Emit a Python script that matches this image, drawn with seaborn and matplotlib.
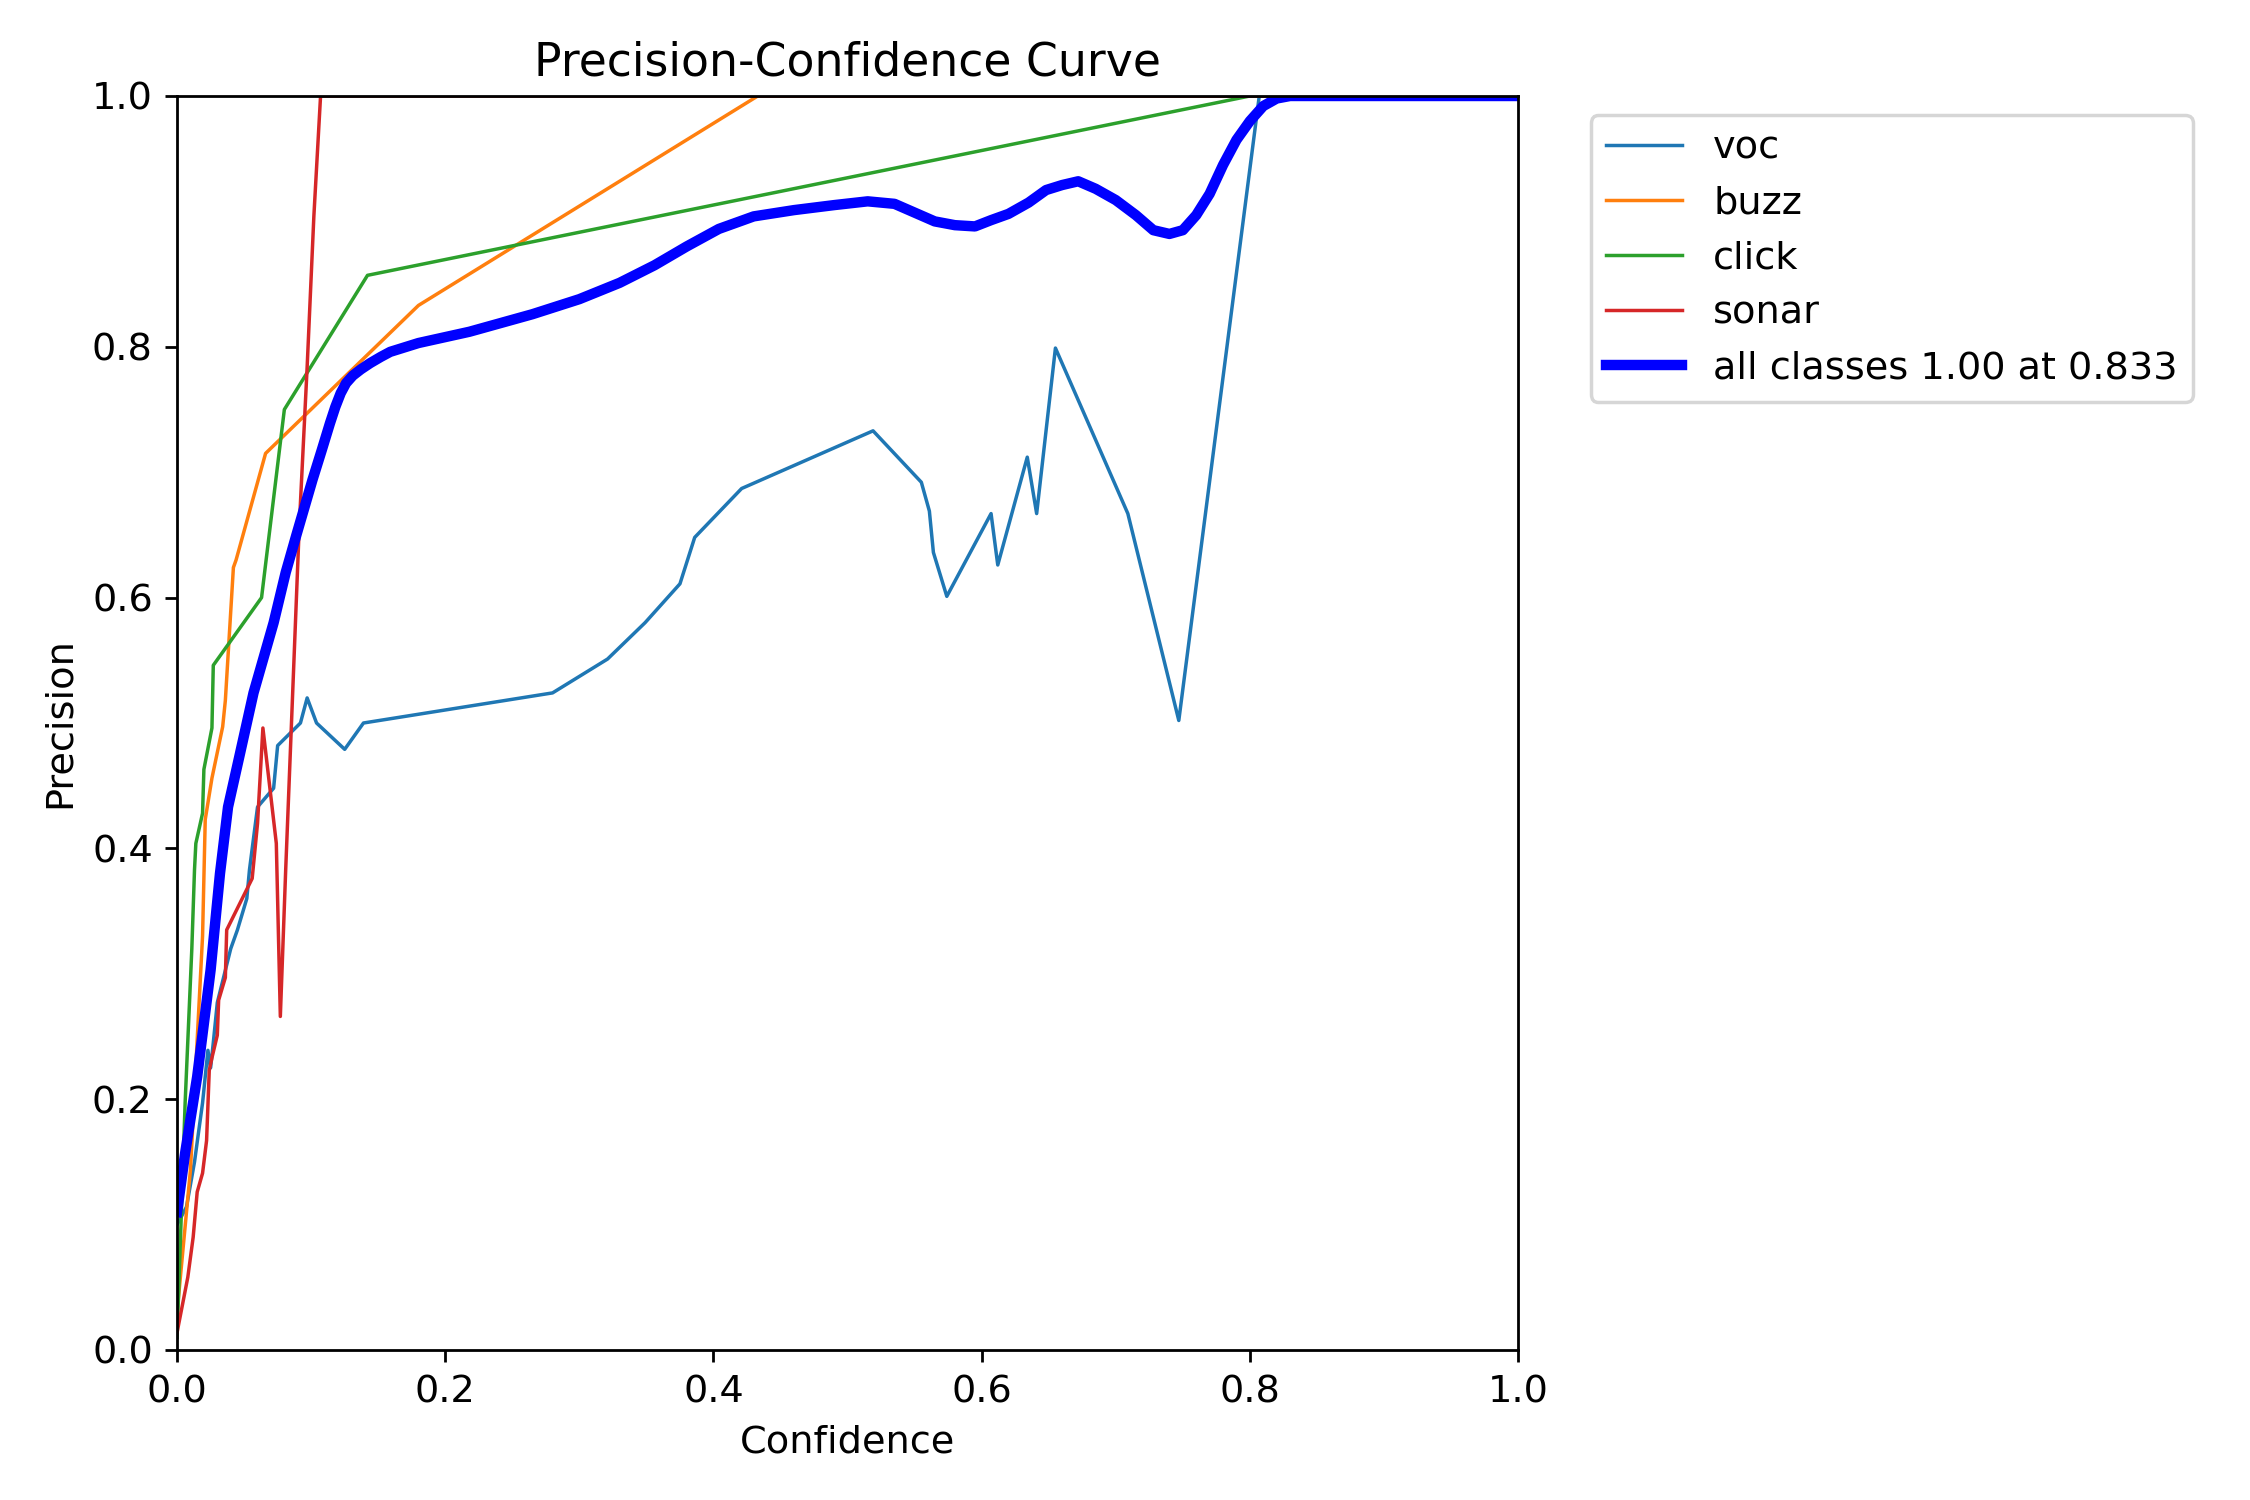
import matplotlib
matplotlib.use("Agg")
import matplotlib.pyplot as plt
import seaborn as sns

plt.rcParams["font.size"] = 11

# Precision vs confidence
voc_x = [0.0, 0.007, 0.013, 0.019, 0.023, 0.025, 0.027, 0.03, 0.04, 0.045, 0.052, 0.054,
         0.06, 0.072, 0.075, 0.092, 0.097, 0.104, 0.125, 0.139, 0.28, 0.321, 0.349, 0.375,
         0.386, 0.421, 0.519, 0.555, 0.561, 0.564, 0.574, 0.607, 0.612, 0.634, 0.641,
         0.655, 0.709, 0.747, 0.807, 1.0]
voc_y = [0.10, 0.114, 0.15, 0.197, 0.239, 0.225, 0.245, 0.277, 0.32, 0.335, 0.36, 0.383,
         0.433, 0.448, 0.482, 0.50, 0.52, 0.50, 0.479, 0.50, 0.524, 0.551, 0.58, 0.611,
         0.648, 0.687, 0.733, 0.692, 0.669, 0.636, 0.601, 0.667, 0.626, 0.712, 0.667,
         0.799, 0.667, 0.502, 1.0, 1.0]

buzz_x = [0.0, 0.01, 0.019, 0.021, 0.026, 0.034, 0.036, 0.042, 0.044, 0.066, 0.18, 0.433, 1.0]
buzz_y = [0.03, 0.144, 0.33, 0.423, 0.456, 0.497, 0.518, 0.624, 0.63, 0.715, 0.833, 1.0, 1.0]

click_x = [0.0, 0.006, 0.011, 0.013, 0.014, 0.019, 0.02, 0.026, 0.027, 0.063, 0.08, 0.142, 0.80, 1.0]
click_y = [0.01, 0.197, 0.32, 0.383, 0.404, 0.428, 0.463, 0.496, 0.546, 0.60, 0.75, 0.857, 1.0, 1.0]

sonar_x = [0.0, 0.008, 0.012, 0.015, 0.019, 0.022, 0.024, 0.026, 0.03, 0.031, 0.036, 0.037,
           0.056, 0.060, 0.064, 0.074, 0.077, 0.081, 0.091, 0.097, 0.102, 0.107, 1.0]
sonar_y = [0.014, 0.058, 0.09, 0.126, 0.141, 0.167, 0.223, 0.233, 0.251, 0.279, 0.297, 0.335,
           0.376, 0.42, 0.496, 0.404, 0.266, 0.383, 0.654, 0.784, 0.904, 1.0, 1.0]

all_x = [0.0, 0.006, 0.015, 0.025, 0.032, 0.038, 0.047, 0.057, 0.072, 0.081, 0.089, 0.101,
         0.108, 0.114, 0.118, 0.122, 0.126, 0.131, 0.137, 0.144, 0.152, 0.159, 0.18, 0.218,
         0.265, 0.30, 0.33, 0.356, 0.38, 0.404, 0.43, 0.46, 0.49, 0.515, 0.535, 0.55, 0.565,
         0.58, 0.595, 0.607, 0.62, 0.635, 0.648, 0.66, 0.672, 0.685, 0.70, 0.715, 0.728,
         0.74, 0.75, 0.76, 0.77, 0.78, 0.79, 0.80, 0.81, 0.82, 0.83, 1.0]
all_y = [0.11, 0.157, 0.218, 0.303, 0.38, 0.433, 0.476, 0.524, 0.58, 0.62, 0.65, 0.694,
         0.718, 0.739, 0.752, 0.763, 0.771, 0.777, 0.782, 0.787, 0.792, 0.796, 0.803, 0.812,
         0.826, 0.838, 0.851, 0.865, 0.88, 0.894, 0.904, 0.909, 0.913, 0.916, 0.914, 0.907,
         0.90, 0.897, 0.896, 0.901, 0.906, 0.915, 0.925, 0.929, 0.932, 0.926, 0.917, 0.905,
         0.893, 0.89, 0.893, 0.905, 0.922, 0.945, 0.965, 0.98, 0.992, 0.998, 1.0, 1.0]

class_names = ["voc", "buzz", "click", "sonar"]
class_colors = ["tab:blue", "tab:orange", "tab:green", "tab:red"]
class_x = [voc_x, buzz_x, click_x, sonar_x]
class_y = [voc_y, buzz_y, click_y, sonar_y]
all_label = "all classes 1.00 at 0.833"

fig, ax = plt.subplots(figsize=(9, 6), dpi=250)
fig.subplots_adjust(left=0.0787, right=0.6747, bottom=0.10, top=0.936)

for name, color, xs, ys in zip(class_names, class_colors, class_x, class_y):
    sns.lineplot(x=xs, y=ys, ax=ax, color=color, linewidth=1, label=name,
                 estimator=None, sort=False)

sns.lineplot(x=all_x, y=all_y, ax=ax, color="blue", linewidth=3, label=all_label,
             estimator=None, sort=False)

ax.set_xlim(0, 1)
ax.set_ylim(0, 1)
ax.set_xlabel("Confidence")
ax.set_ylabel("Precision")
ax.set_title("Precision-Confidence Curve")
ax.legend(bbox_to_anchor=(1.04, 1), loc="upper left")

fig.savefig("out.png", dpi=250)
plt.close(fig)
